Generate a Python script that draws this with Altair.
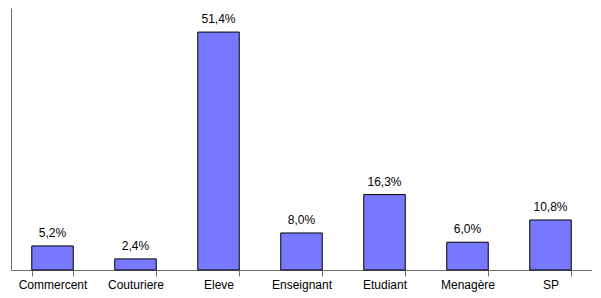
import altair as alt
import pandas as pd

categories = ["Commercent", "Couturiere", "Eleve", "Enseignant", "Etudiant", "Menagère", "SP"]
values = [5.2, 2.4, 51.4, 8.0, 16.3, 6.0, 10.8]
labels = [f"{v:.1f}%".replace(".", ",") for v in values]

df = pd.DataFrame({"cat": categories, "val": values, "lab": labels})

FONT = "Liberation Sans"

x = alt.X("cat:N", sort=categories, title=None,
          scale=alt.Scale(paddingInner=0.5, paddingOuter=0.25),
          axis=alt.Axis(labelAngle=0, labelFont=FONT, labelFontSize=12, labelColor="black",
                        domainColor="#6e6e6e", tickColor="#6e6e6e", tickSize=6,
                        tickBand="extent", labelPadding=3, grid=False))
y = alt.Y("val:Q", title=None, scale=alt.Scale(domain=[0, 56.6], nice=False),
          axis=alt.Axis(labels=False, ticks=False, grid=False, domainColor="#6e6e6e"))

bars = alt.Chart(df).mark_bar(color="#7878FF", stroke="black", strokeWidth=1).encode(x=x, y=y)
text = alt.Chart(df).mark_text(baseline="bottom", dy=-6, font=FONT, fontSize=12, color="black").encode(
    x=alt.X("cat:N", sort=categories), y="val:Q", text="lab:N")
# extension of the baseline axis line past the last category
axis_ext = alt.Chart(df).mark_rule(color="#6e6e6e", strokeWidth=1).encode(
    x=alt.value(581), x2=alt.value(588), y=alt.value(262.5))

chart = (bars + text + axis_ext).properties(
    width=581, height=262,
    padding={"left": 3, "top": 0, "right": 0, "bottom": 28},
    autosize=alt.AutoSizeParams(type="none"),
    background="white",
).configure_view(stroke=None)

chart.save("out.html", embed_options={"renderer": "svg", "actions": False})
